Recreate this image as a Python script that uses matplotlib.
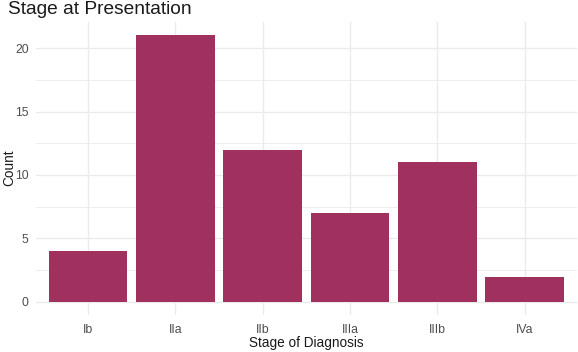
import matplotlib
matplotlib.use("Agg")
import matplotlib.pyplot as plt
from matplotlib.ticker import MultipleLocator

stages = ["Ib", "IIa", "IIb", "IIIa", "IIIb", "IVa"]
counts = [4, 21, 12, 7, 11, 2]

bar_color = "#A0305E"
grid_color = "#EBEBEB"

plt.rcParams['font.family'] = ['Liberation Sans', 'DejaVu Sans']

fig = plt.figure(figsize=(5.78, 3.52), dpi=100)
ax = fig.add_axes([0.0616, 0.1043, 0.9367, 0.8332])

x = list(range(1, len(stages) + 1))
ax.bar(x, counts, width=0.9, color=bar_color, zorder=3)

ax.set_xlim(0.4, 6.6)
ymax = max(counts) * 1.05
ax.set_ylim(-max(counts) * 0.05, ymax)

ax.set_xticks(x)
ax.set_xticklabels(stages)
ax.yaxis.set_major_locator(MultipleLocator(5))
ax.yaxis.set_minor_locator(MultipleLocator(2.5))

ax.grid(True, which='major', color=grid_color, linewidth=1.0, zorder=0)
ax.grid(True, which='minor', axis='y', color=grid_color, linewidth=0.6, zorder=0)

for s in ax.spines.values():
    s.set_visible(False)
ax.tick_params(axis='both', which='both', length=0, colors='#4D4D4D', labelsize=8.8)
ax.tick_params(axis='x', pad=6)
ax.tick_params(axis='y', pad=5)

fig.text(306 / 578, 1 - 343 / 352, "Stage of Diagnosis", fontsize=9.8, color='#1A1A1A',
         ha='center', va='center')
fig.text(9 / 578, 1 - 168 / 352, "Count", fontsize=9.8, color='#1A1A1A',
         ha='center', va='center', rotation=90)
fig.text(0.014, 0.998, "Stage at Presentation", fontsize=13.8, color='#1A1A1A',
         ha='left', va='top')

fig.savefig("out.png", dpi=100)
